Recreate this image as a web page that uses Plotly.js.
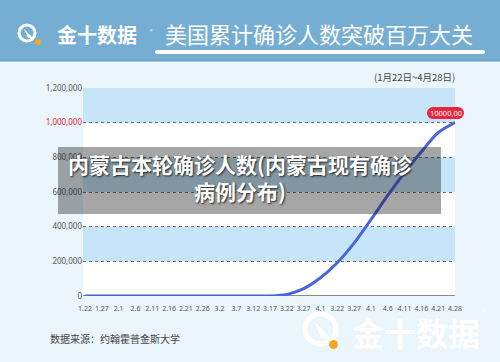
<!DOCTYPE html>
<html><head><meta charset="utf-8">
<script src="https://cdn.plot.ly/plotly-3.0.1.min.js"></script>
<style>html,body{margin:0;padding:0;background:#eaf5fc;}#chart{width:500px;height:362px;}</style>
</head><body><div id="chart"></div>
<script>
// ---- data ----
const dateLabels = ['1.22','1.27','2.1','2.6','2.11','2.16','2.21','2.26','3.2','3.7','3.12','3.17','3.22','3.27','4.1','3.22','3.27','4.1','4.6','4.11','4.16','4.21','4.28'];
const cumulativeCases = [0,0,0,0,0,0,0,0,0,0,0,0,9000,42000,105000,192000,305000,440000,580000,712000,832000,942000,1000000];
const yTickValues = [0,200000,400000,600000,800000,1000000,1200000];
const yTickText = ['0','200,000','400,000','600,000','800,000','<span style="color:#e3243b">1,000,000</span>','1,200,000'];
const headerTitle = '美国累计确诊人数突破百万大关';
const brandName = '金十数据';
const dateRange = '(1月22日~4月28日)';
const overlayText = '内蒙古本轮确诊人数(内蒙古现有确诊<br>病例分布)';
const sourceText = '数据来源：约翰霍普金斯大学';
const peakLabel = '10000,00';

// ---- geometry helpers (pixel -> paper) ----
const PL=83, PR=455, PT=88, PB=296;
const fx = x => (x-PL)/(PR-PL);
const fy = y => (PB-y)/(PB-PT);
const xIdx = dateLabels.map((_,i)=>i);

const CJK = '"Noto Sans CJK SC", "Noto Sans", sans-serif';
const LAT = '"Noto Sans", sans-serif';
const shapes = [];
// bands
[[200000,400000],[600000,800000],[1000000,1200000]].forEach(b=>{
  shapes.push({type:'rect',xref:'paper',yref:'y',x0:0,x1:1,y0:b[0],y1:b[1],fillcolor:'#c6e5f8',line:{width:0},layer:'below'});
});
// baseline
shapes.push({type:'line',xref:'paper',yref:'y',x0:0,x1:1,y0:0,y1:0,line:{color:'#8a8a8a',width:2},layer:'below'});
// header
shapes.push({type:'rect',xref:'paper',yref:'paper',x0:fx(0),x1:fx(500),y0:fy(61),y1:fy(0),fillcolor:'#76aed3',line:{width:0},layer:'below'});
shapes.push({type:'rect',xref:'paper',yref:'paper',x0:fx(0),x1:fx(500),y0:fy(61.5),y1:fy(60),fillcolor:'#6aa2cb',line:{width:0},layer:'below'});
// underline (rounded)
shapes.push({type:'rect',xref:'paper',yref:'paper',x0:fx(157),x1:fx(483),y0:fy(54),y1:fy(50),fillcolor:'#ffffff',line:{width:0},layer:'above'});
shapes.push({type:'circle',xref:'paper',yref:'paper',x0:fx(155),x1:fx(159),y0:fy(54),y1:fy(50),fillcolor:'#ffffff',line:{width:0},layer:'above'});
shapes.push({type:'circle',xref:'paper',yref:'paper',x0:fx(481),x1:fx(485),y0:fy(54),y1:fy(50),fillcolor:'#ffffff',line:{width:0},layer:'above'});
// header logo circle
shapes.push({type:'circle',xref:'paper',yref:'paper',x0:fx(19),x1:fx(35),y0:fy(41),y1:fy(25),fillcolor:'rgba(0,0,0,0)',line:{color:'#ffffff',width:3},layer:'above'});
shapes.push({type:'path',xref:'paper',yref:'paper',path:`M ${fx(24)} ${fy(29)} L ${fx(33)} ${fy(38)} L ${fx(28)} ${fy(38)} Z`,fillcolor:'#ffffff',line:{width:0},layer:'above'});
shapes.push({type:'circle',xref:'paper',yref:'paper',x0:fx(35),x1:fx(41),y0:fy(45),y1:fy(39),fillcolor:'#f5a623',line:{width:0},layer:'above'});
// overlay box
shapes.push({type:'rect',xref:'paper',yref:'paper',x0:fx(58),x1:fx(441),y0:fy(214),y1:fy(147),fillcolor:'rgba(20,20,20,0.38)',line:{width:0},layer:'above'});
// peak pill label
shapes.push({type:'rect',xref:'paper',yref:'paper',x0:fx(433),x1:fx(458),y0:fy(119),y1:fy(107),fillcolor:'#e8263e',line:{width:0},layer:'above'});
shapes.push({type:'circle',xref:'paper',yref:'paper',x0:fx(427),x1:fx(439),y0:fy(119),y1:fy(107),fillcolor:'#e8263e',line:{width:0},layer:'above'});
shapes.push({type:'circle',xref:'paper',yref:'paper',x0:fx(452),x1:fx(464),y0:fy(119),y1:fy(107),fillcolor:'#e8263e',line:{width:0},layer:'above'});
// watermark logo
shapes.push({type:'circle',xref:'paper',yref:'paper',x0:fx(305),x1:fx(336),y0:fy(344),y1:fy(314),fillcolor:'rgba(0,0,0,0)',line:{color:'#ffffff',width:5},layer:'above'});
shapes.push({type:'path',xref:'paper',yref:'paper',path:`M ${fx(314)} ${fy(321)} L ${fx(331)} ${fy(339)} L ${fx(321)} ${fy(338)} Z`,fillcolor:'#ffffff',line:{width:0},layer:'above'});
shapes.push({type:'circle',xref:'paper',yref:'paper',x0:fx(329),x1:fx(338),y0:fy(349),y1:fy(340),fillcolor:'#f5a623',line:{width:0},layer:'above'});

const annotations = [
  {xref:'paper',yref:'paper',x:fx(97),y:fy(34),text:'<b>'+brandName+'</b>',showarrow:false,xanchor:'center',yanchor:'middle',font:{family:CJK,size:20,color:'#ffffff'}},
  {xref:'paper',yref:'paper',x:fx(148),y:fy(25),text:'®',showarrow:false,font:{family:CJK,size:5,color:'#ffffff'}},
  {xref:'paper',yref:'paper',x:fx(318.5),y:fy(33),text:headerTitle,showarrow:false,xanchor:'center',yanchor:'middle',font:{family:CJK,size:22,color:'#ffffff'}},
  {xref:'paper',yref:'paper',x:fx(457),y:fy(77),text:dateRange,showarrow:false,xanchor:'right',yanchor:'middle',font:{family:CJK,size:9.5,color:'#444444'}},
  {xref:'paper',yref:'paper',x:fx(445.5),y:fy(113),text:peakLabel,showarrow:false,xanchor:'center',yanchor:'middle',font:{family:LAT,size:7.5,color:'#ffffff'}},
  {xref:'paper',yref:'paper',x:fx(240),y:fy(177),text:'<b>'+overlayText+'</b>',showarrow:false,xanchor:'center',yanchor:'middle',align:'center',font:{family:CJK,size:21,color:'#ffffff',shadow:'1px 1px 2px #222'}},
  {xref:'paper',yref:'paper',x:fx(48),y:fy(338),text:sourceText,showarrow:false,xanchor:'left',yanchor:'middle',font:{family:CJK,size:10,color:'#444444'}},
  {xref:'paper',yref:'paper',x:fx(416),y:fy(332),text:'<b>'+brandName+'</b>',showarrow:false,xanchor:'center',yanchor:'middle',font:{family:CJK,size:32,color:'#ffffff'}},
  {xref:'paper',yref:'paper',x:fx(488),y:fy(316),text:'®',showarrow:false,font:{family:CJK,size:5,color:'#ffffff'}}
];

const trace = {x:xIdx,y:cumulativeCases,type:'scatter',mode:'lines',line:{color:'#4a64dc',width:3,shape:'spline',smoothing:0.8},hoverinfo:'skip'};

const layout = {
  width:500,height:362,
  margin:{l:PL,r:500-PR,t:PT,b:362-PB},
  paper_bgcolor:'#eaf5fc',plot_bgcolor:'#ffffff',
  showlegend:false,
  xaxis:{range:[-0.12,22],tickvals:xIdx,ticktext:dateLabels,tickangle:0,showgrid:false,zeroline:false,
    showline:false,ticks:'',ticklabelstandoff:7,tickfont:{family:LAT,size:7,color:'#555555'},fixedrange:true},
  yaxis:{range:[0,1200000],tickvals:yTickValues,ticktext:yTickText,showgrid:true,gridcolor:'#6b6b6b',griddash:'dot',gridwidth:1,
    zeroline:false,showline:false,ticks:'',tickfont:{family:LAT,size:8,color:'#555555'},fixedrange:true},
  shapes:shapes,
  annotations:annotations
};
Plotly.newPlot('chart',[trace],layout,{staticPlot:true,displayModeBar:false});
</script></body></html>
